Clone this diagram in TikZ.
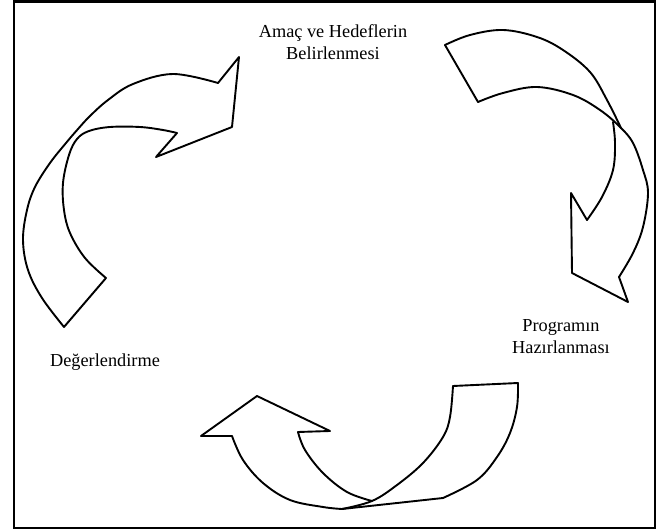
\documentclass[tikz,border=0pt]{standalone}
\usepackage{fontspec}
\setmainfont{Liberation Serif}
\begin{document}
\begin{tikzpicture}[x=1pt,y=-1pt,
  arrowline/.style={line width=1.9pt,line join=round,line cap=round},
  lbl/.style={align=center,inner sep=0pt,font=\fontsize{18.3}{22}\selectfont}]
\useasboundingbox (0,0) rectangle (662,532);
\draw[line width=2.2pt] (14,1.5) rectangle (655,528);

% left arrow: Degerlendirme -> Amac
\draw[arrowline] plot[smooth,tension=0.6] coordinates {(64,327) (42,298) (28,270) (23,240) (27,210) (35,187) (50,163) (66,143) (78,129) (90,116) (108,100) (133,84) (173,74) (218,83)};
\draw[arrowline] (218,83) -- (239,57) -- (232,127) -- (156,157) -- (177,133);
\draw[arrowline] plot[smooth,tension=0.6] coordinates {(177,133) (163,130) (140,127) (110,127) (89,131) (77,139) (69,155) (63,183) (64,210) (70,233) (85,258) (106,278)};
\draw[arrowline] (106,278) -- (64,327);

% right arrow: Amac -> Programin
\draw[arrowline] plot[smooth,tension=0.6] coordinates {(445,45) (470,35) (503,30) (537,37) (563,50) (590,72) (607,100) (621,128)};
\draw[arrowline] plot[smooth,tension=0.6] coordinates {(478,102) (503,93) (537,87) (573,95) (600,110) (620,127) (633,143) (643,170) (648,193) (643,227) (633,253) (619,277)};
\draw[arrowline] plot[smooth,tension=0.6] coordinates {(613,122) (615,143) (613,170) (602,197) (587,220)};
\draw[arrowline] (587,220) -- (571,193) -- (572,273) -- (628,302) -- (619,277);
\draw[arrowline] (445,45) -- (478,102);

% bottom arrow: Programin -> Degerlendirme
\draw[arrowline] (453,386) -- (518,383);
\draw[arrowline] plot[smooth,tension=0.6] coordinates {(518,383) (517,407) (510,433) (497,457) (477,480) (443,498)};
\draw[arrowline] (443,498) -- (342,509);
\draw[arrowline] plot[smooth,tension=0.6] coordinates {(453,386) (450,417) (443,437) (423,463) (397,485) (372,501) (342,509)};
\draw[arrowline] plot[smooth,tension=0.6] coordinates {(342,509) (323,507) (290,500) (263,483) (243,460) (232,436)};
\draw[arrowline] (232,436) -- (201,436) -- (257,396) -- (330,431) -- (298,432);
\draw[arrowline] plot[smooth,tension=0.6] coordinates {(298,432) (305,450) (323,473) (347,492) (372,501)};

\node[lbl] (goal) at (333,42) {Amaç ve Hedeflerin\\Belirlenmesi};
\node[lbl] (prog) at (561,337) {Programın\\Hazırlanması};
\node[lbl] (eval) at (105,362) {Değerlendirme};
\end{tikzpicture}
\end{document}
